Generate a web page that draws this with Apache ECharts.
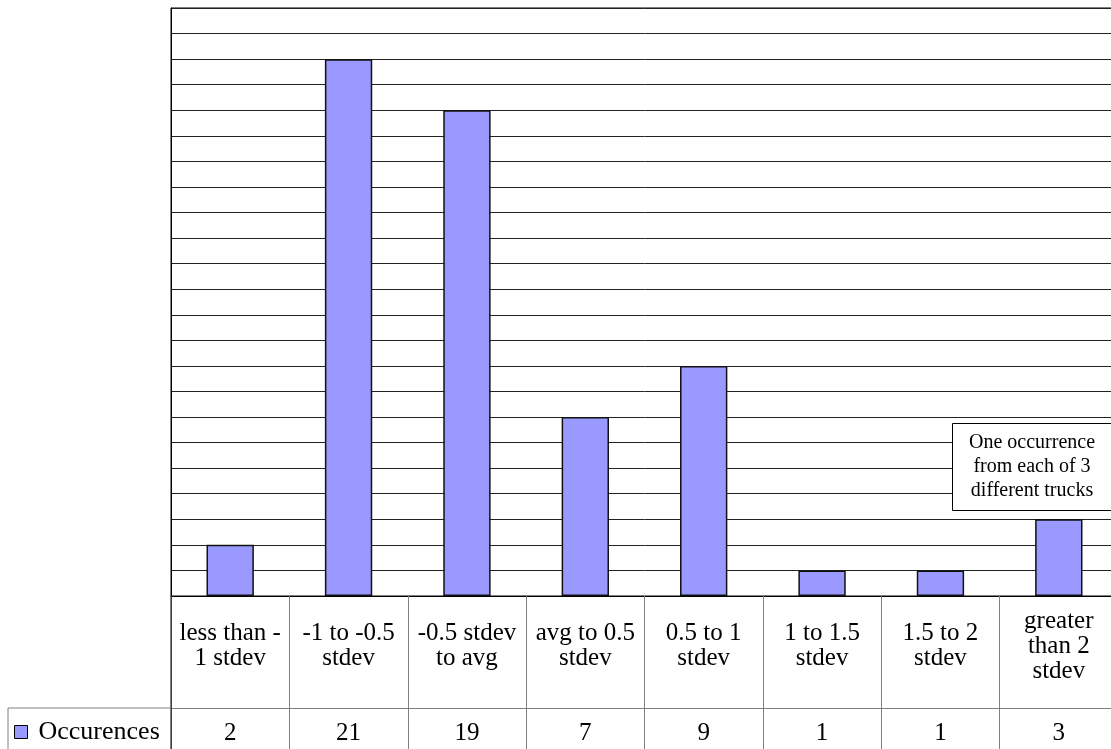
<!DOCTYPE html>
<html>
<head>
<meta charset="utf-8">
<script src="https://cdn.jsdelivr.net/npm/echarts@6/dist/echarts.min.js"></script>
<style>
html,body{margin:0;padding:0;background:#fff;overflow:hidden;width:1111px;height:749px;}
#chart{width:1125px;height:749px;}
</style>
</head>
<body>
<div id="chart"></div>
<script>
const categories = ['less than -\n1 stdev', '-1 to -0.5\nstdev', '-0.5 stdev\nto avg', 'avg to 0.5\nstdev', '0.5 to 1\nstdev', '1 to 1.5\nstdev', '1.5 to 2\nstdev', 'greater\nthan 2\nstdev'];
const occurrences = [2, 21, 19, 7, 9, 1, 1, 3];
const seriesName = 'Occurences';
const annotationText = 'One occurrence\nfrom each of 3\ndifferent trucks';
const yMin = 0, yMax = 23, yStep = 1;

const FONT = 'Liberation Serif';
const chart = echarts.init(document.getElementById('chart'), null, {renderer: 'canvas'});

chart.setOption({
  animation: false,
  backgroundColor: '#fff',
  textStyle: {fontFamily: FONT},
  grid: {left: 171, top: 8, width: 947, height: 588, show: true, borderColor: '#000', borderWidth: 1, backgroundColor: 'transparent'},
  legend: {
    data: [seriesName],
    left: 14, top: 719, padding: 0,
    itemWidth: 13, itemHeight: 13, icon: 'rect',
    itemStyle: {borderColor: '#000', borderWidth: 1},
    textStyle: {fontFamily: FONT, fontSize: 26, lineHeight: 26, color: '#000', padding: [0, 0, 0, 6]},
    selectedMode: false
  },
  xAxis: [
    {
      type: 'category', data: categories, position: 'bottom',
      axisLine: {show: true, lineStyle: {color: '#000', width: 1}},
      axisTick: {show: true, length: 112, alignWithLabel: false, interval: 0, lineStyle: {color: '#808080', width: 1}},
      axisLabel: {interval: 0, margin: 50, verticalAlign: 'middle', fontFamily: FONT, fontSize: 25, lineHeight: 25, color: '#000', align: 'center'},
      splitLine: {show: false}
    },
    {
      type: 'category', data: occurrences.map(String), position: 'bottom', offset: 112,
      axisLine: {show: true, lineStyle: {color: '#808080', width: 1}},
      axisTick: {show: true, length: 41, alignWithLabel: false, interval: 0, lineStyle: {color: '#808080', width: 1}},
      axisLabel: {interval: 0, margin: 25, verticalAlign: 'middle', fontFamily: FONT, fontSize: 25, color: '#000'},
      splitLine: {show: false}
    }
  ],
  yAxis: {
    type: 'value', min: yMin, max: yMax, interval: yStep,
    axisLine: {show: true, lineStyle: {color: '#000', width: 1}},
    axisTick: {show: false},
    axisLabel: {show: false},
    splitLine: {show: true, lineStyle: {color: '#222', width: 1}}
  },
  series: [{
    name: seriesName, type: 'bar', xAxisIndex: 0, data: occurrences,
    barWidth: '40%',
    itemStyle: {color: '#9999ff', borderColor: '#111', borderWidth: 1.5}
  }],
  graphic: [
    {type: 'line', shape: {x1: 171, y1: 596, x2: 171, y2: 749}, style: {stroke: '#000', lineWidth: 1}, z: 100},
    {type: 'line', shape: {x1: 8, y1: 708, x2: 171, y2: 708}, style: {stroke: '#808080', lineWidth: 1}, z: 100},
    {type: 'line', shape: {x1: 8, y1: 708, x2: 8, y2: 749}, style: {stroke: '#808080', lineWidth: 1}, z: 100},
    {type: 'rect', shape: {x: 952.5, y: 423.5, width: 160, height: 87}, style: {fill: '#fff', stroke: '#000', lineWidth: 1}, z: 100},
    {type: 'text', x: 1032, y: 467, z: 101, style: {text: annotationText, fontFamily: FONT, fontSize: 20, lineHeight: 24, fill: '#000', align: 'center', verticalAlign: 'middle'}}
  ]
});
</script>
</body>
</html>
